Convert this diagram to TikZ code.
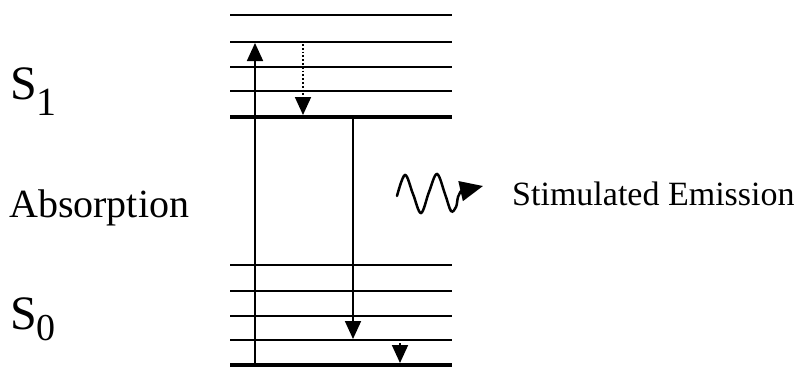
\documentclass[tikz,border=0pt]{standalone}
\usepackage{fontspec}
\setmainfont{Liberation Serif}
\usetikzlibrary{arrows.meta}

\begin{document}
\begin{tikzpicture}[x=1pt, y=-1pt, >={Triangle[length=18pt, width=16pt]},
    level/.style={line width=2.5pt},
    ground/.style={line width=4.5pt},
    trans/.style={->, line width=1.8pt},
    lbl/.style={anchor=base west, inner sep=0pt}]
  \useasboundingbox (0,0) rectangle (797,367);
  % upper state S1
  \draw[level] (230,15) -- (452,15);
  \draw[level] (230,42) -- (452,42);
  \draw[level] (230,67) -- (452,67);
  \draw[level] (230,91) -- (452,91);
  \draw[ground] (230,117) -- (452,117);
  % lower state S0
  \draw[level] (230,265) -- (452,265);
  \draw[level] (230,291) -- (452,291);
  \draw[level] (230,316) -- (452,316);
  \draw[level] (230,340) -- (452,340);
  \draw[ground] (230,365) -- (452,365);
  % ends of the transitions
  \coordinate (absLow) at (255,365);
  \coordinate (absHigh) at (255,43);
  \coordinate (relaxTop) at (303,44);
  \coordinate (relaxBot) at (303,115);
  \coordinate (emTop) at (353,119);
  \coordinate (emBot) at (353,339);
  \coordinate (decTop) at (400,343);
  \coordinate (decBot) at (400,363);
  \draw[trans] (absLow) -- (absHigh);
  \draw[trans, dotted] (relaxTop) -- (relaxBot);
  \draw[trans] (emTop) -- (emBot);
  \draw[trans] (decTop) -- (decBot);
  % photon
  \coordinate (waveEnd) at (461,191);
  \coordinate (waveTip) at (483,186);
  \draw[line width=2.5pt, line cap=round]
    plot[smooth, tension=0.6] coordinates {(397,196) (405,175) (413,194)
      (421,213) (429,192) (437,174) (445,194) (451,211) (456,207)
      (458,197) (461,191)};
  \draw[line width=2.5pt, -{Triangle[length=23pt, width=20pt]}] (waveEnd) -- (waveTip);
  % labels
  \node[lbl] (sOne) at (10,99)
    {\fontsize{48}{50}\selectfont S\raisebox{-16pt}{\fontsize{40}{42}\selectfont 1}};
  \node[lbl] (absorb) at (9,217) {\fontsize{40}{42}\selectfont Absorption};
  \node[lbl] (sZero) at (10,329)
    {\fontsize{48}{50}\selectfont S\raisebox{-11pt}{\fontsize{38}{40}\selectfont 0}};
  \node[lbl] (stim) at (512,205) {\fontsize{34}{36}\selectfont Stimulated Emission};
\end{tikzpicture}
\end{document}
